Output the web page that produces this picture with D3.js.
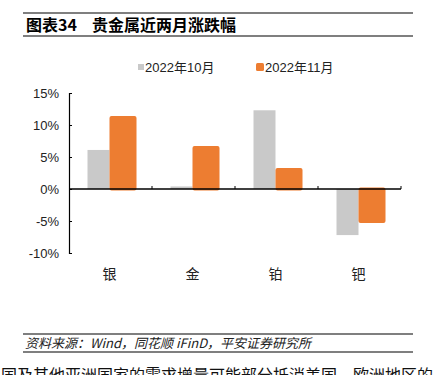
<!DOCTYPE html>
<html>
<head>
<meta charset="utf-8">
<script src="https://cdn.jsdelivr.net/npm/d3@7"></script>
<style>
  body { margin: 0; background: #fff; }
  svg { display: block; font-family: "Liberation Sans", "Noto Sans CJK SC", sans-serif; }
</style>
</head>
<body>
<div id="chart"></div>
<script>
// données
const categories = ["银", "金", "铂", "钯"];
const seriesNames = ["2022年10月", "2022年11月"];
const oct = [6.1, 0.4, 12.3, -7.2];
const nov = [11.4, 6.7, 3.3, -5.3];
const yTicks = [15, 10, 5, 0, -5, -10];

const width = 433, height = 375;
const colors = ["#c9c9c9", "#ed7d31"];

const svg = d3.select("#chart").append("svg")
    .attr("width", width)
    .attr("height", height);

// --- titre ---
svg.append("line").attr("x1", 23).attr("x2", 413).attr("y1", 13).attr("y2", 13)
    .attr("stroke", "#000").attr("stroke-width", 1.2);
svg.append("line").attr("x1", 23).attr("x2", 413).attr("y1", 36).attr("y2", 36)
    .attr("stroke", "#000").attr("stroke-width", 1.2);
svg.append("text").attr("x", 26).attr("y", 30.5)
    .attr("font-size", 16).attr("font-weight", "bold")
    .attr("font-family", "'Noto Sans CJK SC', sans-serif")
    .text("图表34");
svg.append("text").attr("x", 92).attr("y", 30.5)
    .attr("font-size", 16).attr("font-weight", "bold")
    .attr("font-family", "'Noto Sans CJK SC', sans-serif")
    .text("贵金属近两月涨跌幅");

// --- échelles ---
const x = d3.scaleBand().domain(categories).range([69, 401]);
const y = d3.scaleLinear().domain([-10, 15]).range([253, 93]);

// --- légende ---
const legendX = [138, 256];
seriesNames.forEach((name, i) => {
  const s = i === 0 ? 6 : 8;
  svg.append("rect")
      .attr("x", legendX[i]).attr("y", 68 - s / 2 - 1)
      .attr("width", s).attr("height", s)
      .attr("rx", i === 0 ? 0 : 1.5)
      .attr("fill", colors[i]);
  svg.append("text").attr("x", legendX[i] + s + 1).attr("y", 72)
      .attr("font-size", 13).attr("fill", "#222")
      .text(name);
});

// --- barres ---
const bars = svg.append("g");
categories.forEach((c, i) => {
  const cx = x(c) + x.bandwidth() / 2;
  const v0 = oct[i], v1 = nov[i];
  bars.append("rect")
      .attr("x", cx - 23).attr("width", 22)
      .attr("y", y(Math.max(0, v0)))
      .attr("height", Math.abs(y(v0) - y(0)))
      .attr("fill", colors[0]);
  bars.append("rect")
      .attr("x", cx - 1).attr("width", 27)
      .attr("y", y(Math.max(0, v1)) - (v1 < 0 ? 1.5 : 0))
      .attr("height", Math.abs(y(v1) - y(0)) + 1.5)
      .attr("rx", 2)
      .attr("fill", colors[1]);
});

// --- axe Y ---
const yAxis = svg.append("g").attr("transform", "translate(69,0)")
    .call(d3.axisRight(y).tickValues(yTicks).tickSize(3).tickFormat(""));
yAxis.select(".domain").attr("stroke", "#000").attr("stroke-width", 1.2);
yAxis.selectAll(".tick line").attr("stroke", "#000");
yTicks.forEach(t => {
  svg.append("text").attr("x", 59).attr("y", y(t) + 4.5)
      .attr("text-anchor", "end").attr("font-size", 13).attr("fill", "#222")
      .text(t + "%");
});

// --- axe X (ligne du zéro) ---
svg.append("line").attr("x1", 69).attr("x2", 401).attr("y1", y(0)).attr("y2", y(0))
    .attr("stroke", "#000").attr("stroke-width", 1.4);
categories.forEach(c => {
  const bx = x(c) + x.bandwidth();
  svg.append("line").attr("x1", bx).attr("x2", bx).attr("y1", y(0)).attr("y2", y(0) - 3)
      .attr("stroke", "#000");
  svg.append("text").attr("x", x(c) + x.bandwidth() / 2 - 1).attr("y", 279)
      .attr("text-anchor", "middle").attr("font-size", 14)
      .attr("font-family", "'Noto Sans CJK SC', sans-serif").attr("fill", "#222")
      .text(c);
});

// --- source ---
svg.append("line").attr("x1", 23).attr("x2", 413).attr("y1", 334).attr("y2", 334)
    .attr("stroke", "#000").attr("stroke-width", 1.2);
svg.append("line").attr("x1", 23).attr("x2", 413).attr("y1", 352).attr("y2", 352)
    .attr("stroke", "#000").attr("stroke-width", 1.2);
svg.append("text").attr("x", 25).attr("y", 347.5)
    .attr("font-size", 13).attr("font-style", "italic").attr("fill", "#222")
    .attr("font-family", "'Noto Sans CJK SC', sans-serif")
    .text("资料来源：Wind，同花顺 iFinD，平安证券研究所");

// texte coupé en bas, comme dans l'original
svg.append("text").attr("x", 1).attr("y", 381)
    .attr("font-size", 16).attr("fill", "#111")
    .attr("font-family", "'Noto Sans CJK SC', sans-serif")
    .text("国及其他亚洲国家的需求增量可能部分抵消美国、欧洲地区的需");
</script>
</body>
</html>
